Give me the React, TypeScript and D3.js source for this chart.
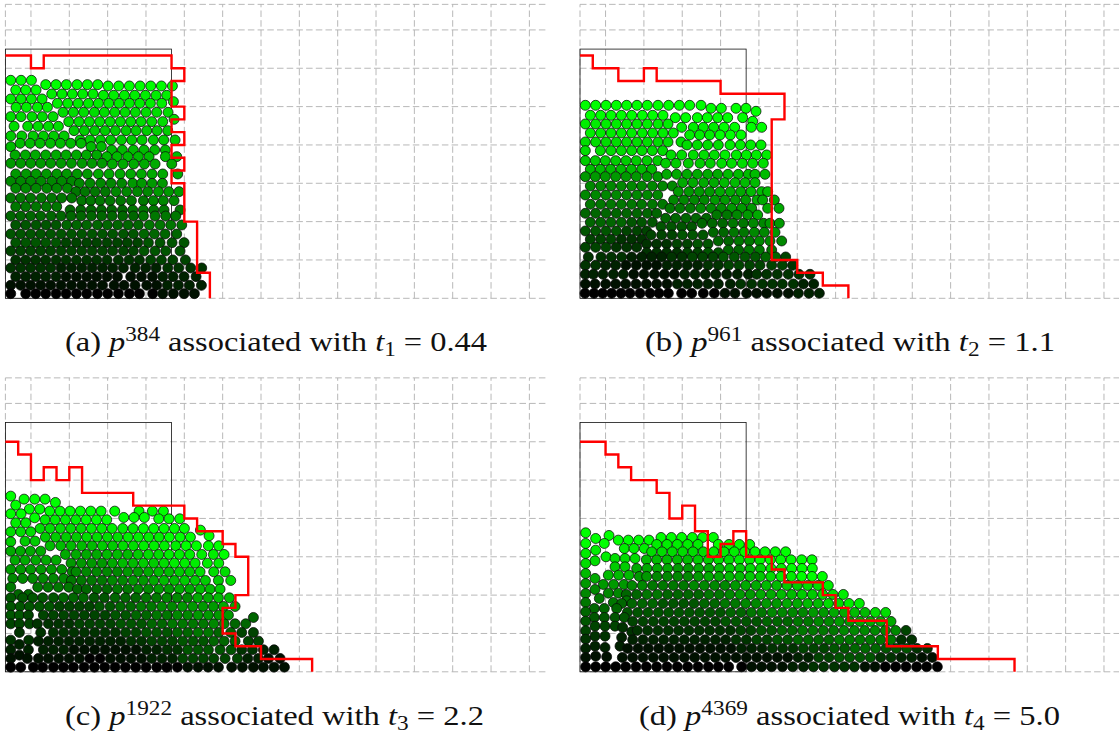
import React from "react";
import * as d3 from "d3";

type Row = [number, string, number[]];
type Pt = [number, number];

// Particle rows: height above the floor, pressure shade (hex digits, left to right), x positions.
const panelARows: Row[] = [
  [654, "f", [32, 63, 94]], [641, "f", [137, 168, 199, 231, 262, 293]], [637, "f", [324, 356, 388, 420, 452, 484, 517]],
  [625, "f", [47, 77, 108]], [613, "e", [155, 186, 217, 248, 279]], [609, "e", [310, 341, 373, 404, 436, 468, 500]],
  [598, "e", [32, 63, 94, 126]], [585, "e", [172, 203, 234, 265, 295, 326, 357, 388, 419, 451, 485]], [590, "e", [520]],
  [573, "e", [48, 79, 112, 142]], [558, "d", [189, 220, 251, 283, 313, 344, 375, 406, 438, 470, 504]],
  [545, "d", [32, 63, 96, 127, 159]], [530, "d", [206, 237, 268, 299, 330, 361, 392, 423, 455, 488]], [537, "d", [522]],
  [516, "d", [42, 83, 114, 145, 175]], [503, "c", [222, 253, 284, 315, 346, 378, 408, 440, 471, 503]],
  [487, "c", [32, 65, 99, 130, 161, 192]], [475, "c", [240, 270, 301, 332, 364, 395, 426, 460, 491, 525]],
  [465, "b", [60, 90, 120, 151, 181, 212, 243]], [455, "b", [32, 273, 304]], [445, "b", [335, 367, 400, 432, 464, 496]],
  [430, "a", [45, 76, 106, 137, 168, 198, 229, 259, 290]], [425, "b", [320, 351, 383, 415, 447, 496, 530]],
  [405, "9", [32, 62, 92, 122, 152, 183, 214, 246, 276, 306]], [403, "a", [337, 369, 401, 433, 465, 515]],
  [373, "9a", [47, 78, 108, 139, 170, 200, 231, 262, 295, 327, 360, 392, 424, 456, 488, 533]],
  [351, "8", [32, 62, 92, 123, 155, 185, 215]], [345, "89", [238, 270, 302, 333, 365, 398, 425, 456, 487]],
  [330, "8", [47, 77, 108, 140, 170, 202]], [320, "789", [228, 255, 285, 316, 348, 380, 412, 443, 475, 506, 537]],
  [301, "7", [32, 62, 92, 124, 155, 185, 215]], [293, "778", [245, 272, 300, 330, 362, 394, 430, 460, 490, 522]],
  [275, "7", [47, 77, 108, 139, 170]], [265, "67", [210, 242, 273, 304, 335, 367, 398, 430, 461, 492, 540]],
  [247, "6667", [32, 62, 92, 122, 153, 183, 213, 243, 274, 305, 336, 368, 400, 430, 465, 497, 527]],
  [220, "5667", [47, 77, 108, 138, 168, 200, 230, 260, 292, 322, 353, 384, 415, 448, 480, 512, 545]],
  [193, "5556", [32, 62, 92, 122, 152, 183, 214, 245, 276, 307, 338, 370, 400, 432, 463, 495, 530]],
  [167, "5445", [47, 77, 107, 137, 168, 198, 229, 260, 290, 321, 352, 382, 413, 445, 480, 516, 552]],
  [142, "4445", [32, 62, 92, 122, 152, 183, 214, 245, 276, 307, 338, 370, 400, 432, 465, 497, 540]],
  [115, "3334", [47, 77, 107, 137, 168, 198, 229, 260, 290, 321, 355, 387, 418, 452, 484, 518, 556]],
  [91, "3223", [32, 62, 92, 122, 152, 183, 214, 245, 276, 307, 338, 370, 405, 437, 468, 503, 536, 572, 605]],
  [65, "2112", [47, 77, 107, 137, 168, 198, 229, 260, 290, 321, 352, 392, 424, 457, 488, 519, 552, 588]],
  [39, "1112", [32, 62, 92, 122, 152, 183, 214, 245, 276, 307, 342, 372, 405, 440, 470, 502, 535, 568, 604]],
  [14, "0001", [32, 77, 107, 137, 168, 198, 229, 260, 292, 323, 355, 388, 418, 458, 488, 520, 552, 583]],
];

const panelBRows: Row[] = [
  [579, "f", [31, 62, 93, 124, 155, 186, 217, 249, 281, 313, 344, 378]], [570, "f", [408, 439, 483, 513]], [561, "f", [543]],
  [549, "f", [46, 77, 108, 139, 170, 202, 233, 264]], [542, "f", [301, 332, 367, 397, 428, 458, 503]], [531, "f", [533]],
  [523, "e", [31, 62, 93, 124, 155, 186, 217, 249, 279]], [513, "ef", [320, 355, 385, 416, 447, 479, 529, 560]],
  [496, "e", [46, 77, 108, 139, 170, 202, 233, 264, 295]], [490, "ef", [344, 374, 404, 435, 466, 498]],
  [469, "d", [31, 62, 93, 124, 155, 186, 217, 249, 279, 318]], [460, "de", [336, 367, 398, 430, 465, 496, 527, 558]],
  [443, "d", [31, 76, 108, 139, 170, 201, 232, 263]], [430, "de", [288, 320, 355, 387, 418, 450, 484, 514, 544, 575]],
  [413, "c", [31, 61, 91, 122, 153, 184, 216, 248]], [405, "cd", [272, 303, 340, 375, 406, 440, 470, 502, 533, 565]],
  [387, "b", [46, 76, 107, 138, 169, 200, 230]], [365, "9", [31, 61, 91, 122, 153, 184, 216, 248]],
  [372, "ab", [275, 305, 336, 367, 398, 428, 459, 490, 520, 540, 570]],
  [337, "8", [46, 77, 108, 139, 170, 200, 232, 263, 292]], [347, "ab", [323, 354, 386, 417, 448, 480, 510, 540]],
  [310, "8", [31, 62, 93, 124, 155, 186, 217, 248]], [320, "9ab", [310, 342, 373, 404, 435, 466, 497, 528, 560, 578]],
  [282, "7", [46, 77, 108, 139, 170, 200, 232, 263]], [295, "89a", [296, 327, 358, 388, 420, 450, 481, 512, 546, 563, 598]],
  [255, "6", [31, 62, 93, 124, 155, 186, 217, 245]], [270, "789a", [285, 315, 346, 377, 408, 439, 470, 500, 530, 578, 612]],
  [228, "65", [46, 77, 108, 139, 170, 200, 232]], [240, "66", [272, 302, 333, 363, 394]], [250, "789a", [425, 456, 486, 518, 548]],
  [215, "5", [258, 289, 320, 350]], [225, "6789", [381, 412, 443, 474, 505, 535, 566, 585, 613]],
  [202, "54", [31, 62, 93, 124, 155, 186, 215]], [190, "45", [228, 260, 291, 322, 353, 384]], [198, "6789", [415, 446, 477, 507, 538, 568, 600]],
  [177, "43", [46, 77, 108, 139, 170, 200]], [163, "345", [215, 245, 275, 306, 337, 368, 399]], [172, "6788", [430, 461, 492, 523, 553, 585, 620]],
  [153, "43", [31, 62, 93, 124, 155, 185]], [137, "3345", [215, 245, 275, 306, 337, 368, 399, 430]], [145, "6777", [460, 491, 522, 553, 590]],
  [124, "33223445564", [40, 78, 109, 140, 170, 200, 230, 260, 290, 321, 352, 383, 414, 445, 478, 510, 541, 572, 602, 632]],
  [99, "32112234443", [31, 62, 92, 122, 153, 184, 215, 245, 276, 306, 337, 368, 399, 430, 461, 492, 524, 555, 590, 622, 653]],
  [72, "2211222333", [31, 55, 84, 115, 145, 176, 207, 238, 268, 298, 329, 360, 391, 422, 455, 487, 520, 545, 575, 607, 640, 672, 705]],
  [43, "11122332", [31, 60, 92, 122, 152, 183, 214, 245, 276, 307, 337, 368, 399, 430, 466, 497, 530, 562, 592, 622, 655, 685, 716]],
  [15, "0000112", [30, 57, 83, 110, 138, 165, 195, 225, 252, 280, 320, 350, 385, 418, 450, 480, 515, 545, 575, 607, 640, 670, 702, 733]],
];

const panelCRows: Row[] = [
  [527, "f", [32]], [518, "f", [72, 104, 135]], [508, "f", [166]], [500, "f", [47]], [488, "f", [88, 119]], [474, "f", [32, 63]],
  [462, "f", [104]], [482, "f", [149, 180, 210, 241, 272, 303, 344, 417, 457, 490]], [463, "f", [371, 402, 433]],
  [447, "e", [47, 77]], [456, "ef", [135, 165, 196, 227, 258, 289, 320]], [459, "f", [476, 507, 539]],
  [420, "d", [32, 62, 92]], [430, "def", [120, 150, 181, 212, 243, 274, 305, 336, 368, 399, 430, 461, 492, 523, 553]],
  [390, "c", [32]], [392, "c", [75, 105]], [404, "cdef", [136, 167, 198, 229, 260, 291, 322, 353, 384, 415, 446, 477, 508, 540, 571]], [425, "f", [601]], [408, "f", [627]],
  [378, "bbcdeeff", [150, 182, 213, 245, 276, 307, 338, 369, 400, 431, 462, 493, 527, 558, 589, 625, 656]],
  [362, "a", [32, 61, 91, 122]],
  [352, "aabbcdeeef", [196, 228, 259, 290, 321, 352, 383, 414, 445, 476, 507, 538, 569, 605, 640, 672]],
  [335, "a", [45, 75, 107, 138, 168]],
  [326, "99abcdeee", [213, 244, 275, 306, 337, 368, 399, 430, 461, 492, 523, 554, 585, 622, 656]],
  [307, "9", [32, 62, 92, 123, 154, 185]],
  [300, "8889abcdd", [216, 228, 259, 290, 321, 352, 383, 414, 445, 476, 507, 538, 569, 600, 641, 675]],
  [280, "8", [38, 68, 98, 129, 160, 191]],
  [274, "7789abccd", [214, 244, 275, 306, 337, 368, 399, 430, 461, 492, 523, 554, 585, 616, 655, 692]],
  [254, "7", [32, 113, 144, 175, 206]], [232, "6", [55, 85]],
  [248, "66789abc", [232, 259, 290, 321, 352, 383, 414, 445, 476, 507, 538, 569, 600, 630, 660]],
  [222, "5565678ab", [32, 68, 98, 128, 160, 190, 220, 250, 282, 313, 345, 376, 407, 438, 469, 500, 531, 562, 593, 624, 655, 688]],
  [196, "5544567899a", [32, 60, 88, 118, 148, 178, 208, 238, 268, 298, 330, 361, 392, 423, 454, 485, 516, 547, 578, 609, 640, 670, 705]],
  [170, "54444567899", [32, 58, 85, 130, 160, 191, 222, 253, 284, 315, 346, 377, 408, 439, 470, 501, 532, 563, 594, 625, 656, 685]], [163, "6", [760]],
  [144, "43344567786", [32, 58, 88, 112, 145, 176, 207, 238, 269, 300, 331, 362, 393, 424, 455, 486, 517, 548, 579, 610, 641, 672, 705, 737]],
  [118, "3333456764", [58, 122, 160, 191, 222, 253, 284, 315, 346, 377, 408, 439, 470, 501, 532, 563, 594, 625, 656, 692, 725, 760]],
  [95, "3", [32, 86]], [82, "2", [58]],
  [92, "22234564", [115, 145, 176, 207, 238, 269, 300, 331, 362, 393, 424, 455, 486, 517, 548, 579, 610, 641, 672, 705, 745, 775]],
  [66, "22111235532", [32, 85, 130, 160, 191, 222, 253, 284, 315, 346, 377, 408, 439, 470, 501, 532, 563, 594, 625, 660, 693, 725, 757, 790, 822]],
  [50, "1", [58]],
  [40, "111011244421", [32, 82, 115, 145, 176, 207, 238, 269, 300, 331, 362, 393, 424, 455, 486, 517, 548, 579, 610, 641, 675, 712, 743, 775, 805, 840]],
  [14, "00000111", [32, 62, 100, 128, 160, 190, 220, 252, 283, 314, 345, 376, 407, 438, 470, 500, 532, 563, 594, 624, 655, 695, 727, 760, 790, 822, 853]],
];

const panelDRows: Row[] = [
  [417, "f", [32]], [400, "f", [62]], [409, "f", [102]], [395, "f", [130, 160, 191, 222]], [403, "f", [258, 289, 320, 352, 383, 415]],
  [385, "f", [32, 88]], [382, "ef", [245, 276, 307, 338, 369, 430, 462, 493, 524]], [370, "e", [148, 177, 208]],
  [365, "e", [62]], [355, "e", [32]], [345, "e", [93]],
  [360, "ddeff", [230, 261, 292, 323, 354, 385, 416, 447, 478, 509, 540, 570, 601, 632]],
  [340, "d", [120, 150, 180]], [333, "d", [60]], [325, "d", [32]],
  [336, "bbcdefff", [214, 245, 276, 307, 338, 369, 400, 431, 462, 493, 524, 555, 586, 617, 648, 680, 711]],
  [315, "c", [120, 150]], [295, "b", [32]], [290, "b", [100, 131, 162]], [280, "a", [60]],
  [310, "aa9abcdeff", [185, 216, 247, 278, 309, 340, 371, 402, 433, 464, 495, 526, 557, 588, 619, 650, 681, 712]],
  [286, "9889abcdeff", [193, 215, 246, 277, 308, 339, 370, 401, 432, 463, 494, 525, 556, 587, 618, 649, 680, 711, 742]],
  [265, "9", [32]], [262, "9", [85, 116, 147]], [247, "8", [60]], [236, "8", [100, 130]], [235, "8", [32]],
  [259, "877889abcde", [171, 202, 233, 264, 295, 326, 357, 388, 419, 450, 481, 512, 543, 574, 605, 636, 667, 698, 729, 760]],
  [232, "6766789abcde", [154, 185, 216, 247, 278, 309, 340, 371, 402, 433, 464, 495, 526, 557, 588, 619, 650, 681, 712, 743, 774, 805]],
  [220, "7", [73]], [213, "7", [155]], [208, "7", [32, 115]],
  [205, "66556789abde", [140, 171, 202, 233, 264, 295, 326, 357, 388, 419, 450, 481, 512, 543, 574, 605, 636, 667, 698, 729, 760, 791, 822, 853]],
  [190, "6", [58, 88, 125]], [180, "6", [32]],
  [178, "5555567889abd", [157, 188, 219, 250, 281, 312, 343, 374, 405, 436, 467, 498, 529, 560, 591, 622, 653, 684, 715, 746, 777, 808, 839, 870, 901, 932]],
  [163, "5", [58, 88, 120, 148]], [152, "5", [32]],
  [151, "4444556789aa", [173, 204, 235, 266, 297, 328, 359, 390, 421, 452, 483, 514, 545, 576, 607, 638, 669, 700, 731, 762, 793, 824, 855, 886, 917, 948]],
  [137, "4", [60, 90, 120]], [123, "4", [32]], [133, "3", [143]], [120, "3", [170]],
  [124, "33333456778884", [187, 218, 249, 280, 311, 342, 373, 404, 435, 466, 497, 528, 559, 590, 621, 652, 683, 714, 745, 776, 807, 838, 869, 900, 931, 962, 993]],
  [107, "3", [60, 90]], [103, "2", [140]], [98, "3", [32]],
  [96, "22222345667773", [173, 204, 235, 266, 297, 328, 359, 390, 421, 452, 483, 514, 545, 576, 607, 638, 669, 700, 731, 762, 793, 824, 855, 886, 917, 948, 979, 1010]],
  [77, "2", [60, 135]], [73, "2", [90]], [70, "2", [32]],
  [70, "11112345653", [158, 189, 220, 251, 282, 313, 344, 375, 406, 437, 468, 499, 530, 561, 592, 623, 654, 685, 716, 747, 778, 809, 840, 871, 902, 933, 964, 995, 1026, 1057]],
  [47, "1", [62]], [45, "1", [95]], [43, "1", [32]],
  [43, "111111112455321", [142, 173, 204, 235, 266, 297, 328, 359, 390, 421, 452, 483, 514, 545, 576, 607, 638, 669, 700, 731, 762, 793, 824, 855, 886, 917, 948, 979, 1010, 1041, 1072]],
  [15, "0000000112331000", [32, 62, 92, 122, 152, 183, 214, 245, 276, 307, 338, 369, 400, 430, 461, 500, 530, 560, 590, 622, 653, 685, 715, 746, 778, 808, 838, 870, 900, 931, 962, 993, 1025, 1055, 1087]],
];

// Red contours, as vertices in marker-cell units.
const panelARed: Pt[] = [[0,19],[2,19],[2,18],[3,18],[3,19],[13,19],[13,18],[14,18],[14,17],[13,17],[13,15],[14,15],[14,14],[13,14],[13,13],[14,13],[14,12],[13,12],[13,11],[14,11],[14,10],[13,10],[13,9],[14,9],[14,6],[15,6],[15,2],[16,2],[16,0]];
const panelBRed: Pt[] = [[0,19],[1,19],[1,18],[3,18],[3,17],[5,17],[5,18],[6,18],[6,17],[11,17],[11,16],[16,16],[16,14],[15,14],[15,3],[17,3],[17,2],[19,2],[19,1],[21,1],[21,0]];
const panelCRed: Pt[] = [[0,18],[1,18],[1,17],[2,17],[2,15],[3,15],[3,16],[4,16],[4,15],[5,15],[5,16],[6,16],[6,14],[10,14],[10,13],[14,13],[14,12],[15,12],[15,11],[17,11],[17,10],[18,10],[18,9],[19,9],[19,6],[18,6],[18,5],[17,5],[17,3],[18,3],[18,2],[20,2],[20,1],[24,1],[24,0]];
const panelDRed: Pt[] = [[0,18],[2,18],[2,17],[3,17],[3,16],[4,16],[4,15],[6,15],[6,14],[7,14],[7,12],[8,12],[8,13],[9,13],[9,11],[10,11],[10,9],[11,9],[11,10],[12,10],[12,11],[13,11],[13,9],[15,9],[15,8],[16,8],[16,7],[19,7],[19,6],[20,6],[20,5],[21,5],[21,4],[24,4],[24,2],[28,2],[28,1],[34,1],[34,0]];

const gridColumns = [0, 2, 5, 8, 11, 14, 17, 20, 23, 26, 29, 32, 35, 38, 41];
const gridRows = [0, 3, 6, 9, 12, 15, 18, 21, 23];

const captionLetters = ["(a)", "(b)", "(c)", "(d)"];
const captionSteps = ["384", "961", "1922", "4369"];
const captionIndices = ["1", "2", "3", "4"];
const captionTimes = ["0.44", "1.1", "2.2", "5.0"];

const CELL = 12.78;
const panels = [
  { rows: panelARows, red: panelARed, x0: 5.4, floor: 298.3, zero: 16, capX: 65, capW: 422, capY: 351 },
  { rows: panelBRows, red: panelBRed, x0: 580, floor: 298.3, zero: 15, capX: 645, capW: 410, capY: 351 },
  { rows: panelCRows, red: panelCRed, x0: 5.4, floor: 671.8, zero: 16, capX: 65, capW: 419, capY: 725 },
  { rows: panelDRows, red: panelDRed, x0: 580, floor: 671.8, zero: 15, capX: 639, capW: 421, capY: 725 },
];

function Panel({ p, i }: { p: (typeof panels)[number]; i: number }) {
  const fx = d3.scaleLinear().domain([0, 42.33]).range([p.x0, p.x0 + 42.33 * CELL]);
  const fy = d3.scaleLinear().domain([0, 23]).range([p.floor, p.floor - 23 * CELL]);
  const px = d3.scaleLinear().domain([p.zero, p.zero + 1623]).range([p.x0, p.x0 + 541]);
  const py = d3.scaleLinear().domain([0, 900]).range([p.floor, p.floor - 300]);
  const shade = d3.scaleLinear<string>().domain([0, 15]).range(["rgb(0,0,0)", "rgb(0,255,0)"]);
  const line = d3.line<Pt>().x((d) => fx(d[0])).y((d) => fy(d[1]));
  const dots = p.rows.flatMap(([h, s, xs]) =>
    xs.map((x, k) => ({ x, h, v: parseInt(s[Math.floor((k * s.length) / xs.length)], 16) })),
  );
  return (
    <g>
      {gridColumns.map((c) => (
        <line key={"c" + c} x1={fx(c)} x2={fx(c)} y1={fy(0)} y2={fy(23)} stroke="#b0b0b0" strokeWidth={0.9} strokeDasharray="6.5 3.2" />
      ))}
      {gridRows.map((r) => (
        <line key={"r" + r} x1={fx(0)} x2={fx(42.33)} y1={fy(r)} y2={fy(r)} stroke="#b0b0b0" strokeWidth={0.9} strokeDasharray="6.5 3.2" />
      ))}
      <rect x={fx(0)} y={fy(19.5)} width={fx(13) - fx(0)} height={fy(0) - fy(19.5)} fill="none" stroke="#111" strokeWidth={0.8} />
      {dots.map((d, k) => (
        <circle key={k} cx={px(d.x)} cy={py(d.h)} r={5} fill={shade(d.v)} stroke="#0a0a0a" strokeWidth={0.75} />
      ))}
      <path d={line(p.red) ?? ""} fill="none" stroke="#ff0000" strokeWidth={2.4} strokeLinejoin="miter" />
      <text x={p.capX} y={p.capY} fontFamily="'Liberation Serif', serif" fontSize={28} fill="#111" textLength={p.capW} lengthAdjust="spacingAndGlyphs">
        {captionLetters[i] + " "}
        <tspan fontStyle="italic">p</tspan>
        <tspan dy={-10} fontSize={20}>{captionSteps[i]}</tspan>
        <tspan dy={10}>{" associated with "}</tspan>
        <tspan fontStyle="italic">t</tspan>
        <tspan dy={5} fontSize={20}>{captionIndices[i]}</tspan>
        <tspan dy={-5}>{" = " + captionTimes[i]}</tspan>
      </text>
    </g>
  );
}

export default function App() {
  return (
    <svg width={1119} height={736} viewBox="0 0 1119 736" style={{ position: "absolute", left: 0, top: 0, background: "#fff", display: "block" }}>
      {panels.map((p, i) => (
        <Panel key={i} p={p} i={i} />
      ))}
    </svg>
  );
}
